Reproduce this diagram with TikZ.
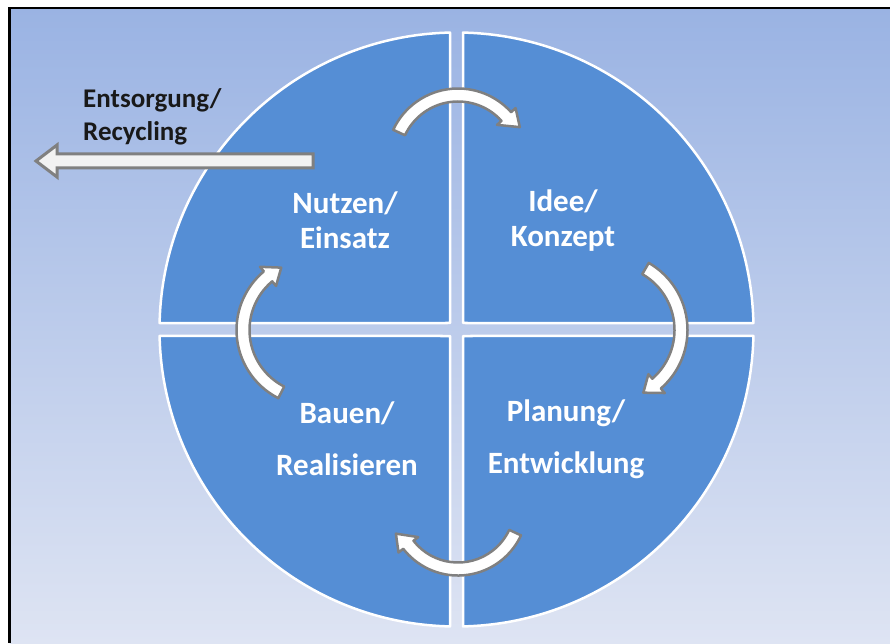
\documentclass[tikz,border=0pt]{standalone}
\usepackage{fontspec}
\setmainfont{Carlito}
\usetikzlibrary{calc}

\definecolor{bgtop}{HTML}{9AB3E3}
\definecolor{bgbot}{HTML}{DEE4F3}
\definecolor{quadblue}{HTML}{558ED5}
\definecolor{arrowedge}{HTML}{808080}
\definecolor{exitfill}{HTML}{F2F2F2}

% half width of the curved arrow band and of its head
\def\bw{6.5}
\def\bh{12.5}

% curved block arrow: centre x, centre y, radius, tail angle, head-base angle, tip angle, tip radius
\newcommand{\blockarc}[7]{%
  \draw[cyclearrow]
    ($(#1,#2)+(#4:#3+\bw)$) arc[start angle=#4, end angle=#5, radius=#3+\bw]
    -- ($(#1,#2)+(#5:#3+\bh)$)
    -- ($(#1,#2)+(#6:#7)$)
    -- ($(#1,#2)+(#5:#3-\bh)$)
    -- ($(#1,#2)+(#5:#3-\bw)$) arc[start angle=#5, end angle=#4, radius=#3-\bw]
    -- cycle;}

\tikzset{
  quadrant/.style={fill=quadblue, draw=white, line width=2.5pt, line join=round},
  cyclearrow/.style={fill=white, draw=arrowedge, line width=2.5pt, line join=round},
  exitarrow/.style={fill=exitfill, draw=arrowedge, line width=3pt, line join=miter},
  phase/.style={text=white, font=\bfseries\fontsize{31}{35}\selectfont, align=center, inner sep=0pt},
  exitlabel/.style={text=black!90, font=\bfseries\fontsize{27}{33}\selectfont, align=left, inner sep=0pt, anchor=west},
}

\begin{document}
\begin{tikzpicture}[x=1pt,y=1pt]
  \useasboundingbox (0,0) rectangle (890,643);
  \fill[white] (0,0) rectangle (890,643);

  % panel background and its frame
  \shade[top color=bgtop, bottom color=bgbot] (9.5,0) rectangle (890,635);
  \draw[black, line width=2.5pt] (9.5,0) -- (9.5,635) -- (890,635);

  % four quadrants of the life cycle disc
  \coordinate (C) at (456.5,313.5);
  \def\R{297}
  \def\g{6.5}
  \def\d{1.254}
  \draw[quadrant] ($(C)+(\g,\g)$) -- ($(C)+(90-\d:\R)$)
    arc[start angle=90-\d, end angle=\d, radius=\R] -- cycle;
  \draw[quadrant] ($(C)+(-\g,\g)$) -- ($(C)+(90+\d:\R)$)
    arc[start angle=90+\d, end angle=180-\d, radius=\R] -- cycle;
  \draw[quadrant] ($(C)+(-\g,-\g)$) -- ($(C)+(180+\d:\R)$)
    arc[start angle=180+\d, end angle=270-\d, radius=\R] -- cycle;
  \draw[quadrant] ($(C)+(\g,-\g)$) -- ($(C)+(270+\d:\R)$)
    arc[start angle=270+\d, end angle=360-\d, radius=\R] -- cycle;

  % clockwise transition arrows
  \blockarc{458}{483}{65}{155}{42}{28}{70}
  \blockarc{610}{313}{71}{60}{-49}{-62}{71}
  \blockarc{458}{137}{63}{335}{218}{204}{68}
  \blockarc{313}{313}{70}{243}{130}{117}{70}

  % exit arrow towards disposal
  \draw[exitarrow] (313,489) -- (57,489) -- (57,498) -- (36,482)
    -- (57,466) -- (57,475) -- (313,475) -- cycle;

  % phase labels
  \node[phase] (use)    at (345,422.5) {Nutzen/\\Einsatz};
  \node[phase] (idea)   at (563,422.5) {Idee/\\Konzept};
  \node[phase, font=\bfseries\fontsize{31}{52}\selectfont] (build) at (347,204) {Bauen/\\Realisieren};
  \node[phase, font=\bfseries\fontsize{31}{52}\selectfont] (plan)  at (566,204) {Planung/\\Entwicklung};
  \node[exitlabel] (dispose) at (83,526.5) {Entsorgung/\\Recycling};
\end{tikzpicture}
\end{document}
